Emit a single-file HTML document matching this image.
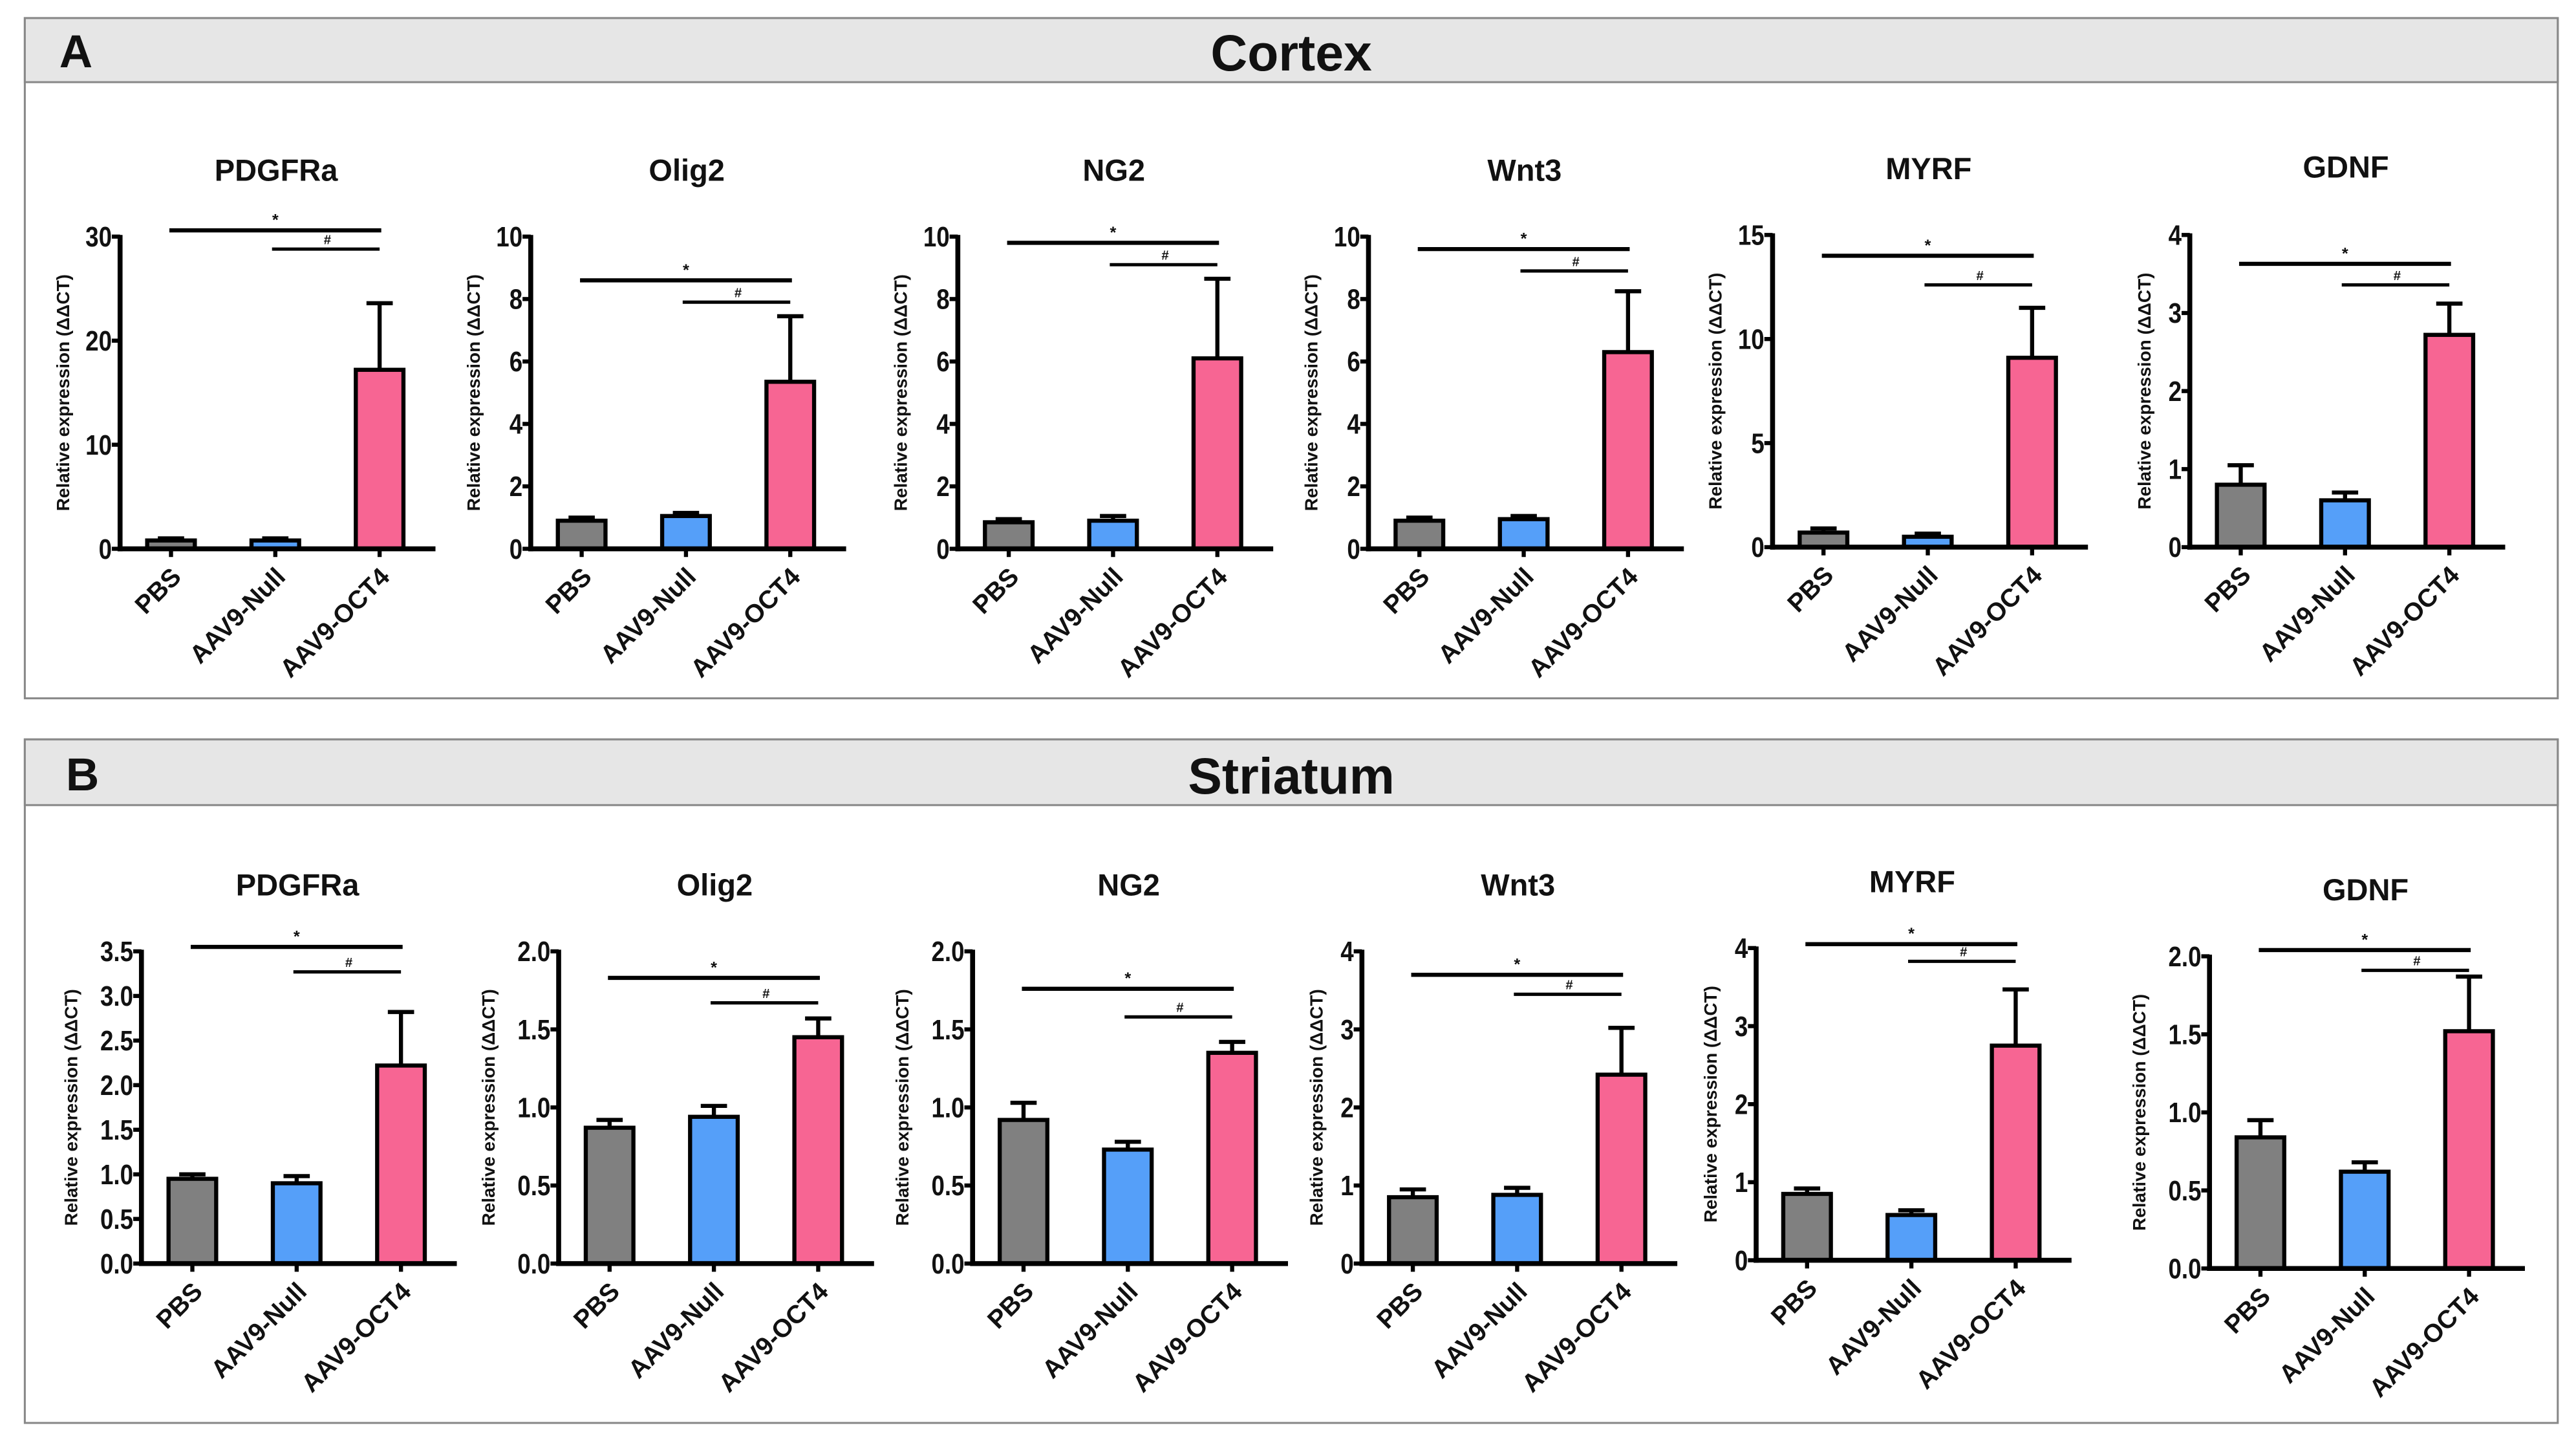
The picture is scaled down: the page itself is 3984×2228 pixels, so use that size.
<!DOCTYPE html>
<html><head><meta charset="utf-8"><style>
html,body{margin:0;padding:0;background:#fff}
svg{display:block}
text{font-family:"Liberation Sans",Arial,sans-serif;font-weight:bold;fill:#111}
</style></head><body>
<svg id="fig" width="3984" height="2228" viewBox="0 0 1568 877" xmlns="http://www.w3.org/2000/svg">
<g>
<rect x="15" y="11" width="1542" height="414" fill="#fff" stroke="#888" stroke-width="1.2"/>
<rect x="15" y="11" width="1542" height="39" fill="#e6e6e6" stroke="#888" stroke-width="1.2"/>
<text x="36" y="41" font-size="28">A</text>
<text x="786" y="43" font-size="31" text-anchor="middle">Cortex</text>
</g>
<g>
<rect x="15" y="450" width="1542" height="416" fill="#fff" stroke="#888" stroke-width="1.2"/>
<rect x="15" y="450" width="1542" height="40" fill="#e6e6e6" stroke="#888" stroke-width="1.2"/>
<text x="40" y="481" font-size="28">B</text>
<text x="786" y="483" font-size="31" text-anchor="middle">Striatum</text>
</g>
<g id="charts"></g>
</svg>
<script>
const categories = ["PBS","AAV9-Null","AAV9-OCT4"];
const geneNames = ["PDGFRa","Olig2","NG2","Wnt3","MYRF","GDNF"];
const cortexMeans = [[0.8,0.8,17.2],[0.9,1.05,5.35],[0.85,0.9,6.1],[0.9,0.95,6.3],[0.7,0.5,9.1],[0.8,0.6,2.72]];
const cortexErrTops = [[1.0,1.0,23.6],[1.0,1.15,7.45],[0.95,1.05,8.65],[1.0,1.05,8.25],[0.9,0.65,11.5],[1.05,0.7,3.12]];
const cortexMax = [30,10,10,10,15,4];
const cortexTicks = [["0","10","20","30"],["0","2","4","6","8","10"],["0","2","4","6","8","10"],["0","2","4","6","8","10"],["0","5","10","15"],["0","1","2","3","4"]];
const cortexStarLevels = [30.6,8.6,9.8,9.6,14.0,3.63];
const cortexHashLevels = [28.8,7.9,9.1,8.9,12.6,3.36];
const striatumMeans = [[0.95,0.9,2.22],[0.87,0.94,1.45],[0.92,0.73,1.35],[0.85,0.88,2.42],[0.85,0.58,2.75],[0.84,0.62,1.52]];
const striatumErrTops = [[1.0,0.98,2.82],[0.92,1.01,1.57],[1.03,0.78,1.42],[0.95,0.97,3.02],[0.92,0.64,3.47],[0.95,0.68,1.87]];
const striatumMax = [3.5,2.0,2.0,4,4,2.0];
const striatumTicks = [["0.0","0.5","1.0","1.5","2.0","2.5","3.0","3.5"],["0.0","0.5","1.0","1.5","2.0"],["0.0","0.5","1.0","1.5","2.0"],["0","1","2","3","4"],["0","1","2","3","4"],["0.0","0.5","1.0","1.5","2.0"]];
const striatumStarLevels = [3.55,1.83,1.76,3.7,4.05,2.04];
const striatumHashLevels = [3.27,1.67,1.58,3.45,3.83,1.91];
</script>
<script>
const NS="http://www.w3.org/2000/svg";
const root=document.getElementById('charts');
const colors=["#808080","#559ff9","#f76593"];
function mk(tag,attrs,parent){const e=document.createElementNS(NS,tag);for(const k in attrs)e.setAttribute(k,attrs[k]);parent.appendChild(e);return e;}
const layouts={
 cortex:{ax:[73,323,583,833,1079,1333],top:[144,144,144,144,143,143],bot:[334,334,334,334,333,333],titleY:[110,110,110,110,109,108]},
 striatum:{ax:[86,340,592,829,1069,1345],top:[579,579,579,579,577,582],bot:[769,769,769,769,767,772],titleY:[545,545,545,545,543,548]}
};
function drawChart(region,i,means,errs,max,ticks,star,hash){
 const L=layouts[region];const x0=L.ax[i],yT=L.top[i],yB=L.bot[i];
 const g=mk('g',{},root);
 
 
 const y=v=>yB-(v/max)*(yB-yT);
 const xc=j=>x0+31+j*63.5;
 const t=mk('text',{x:x0+95,y:L.titleY[i],'font-size':18.5,'text-anchor':'middle'},g);t.textContent=geneNames[i];
 
 
 const maxLen=Math.max(...ticks.map(s=>s.length));
 const off=maxLen>=3?39:(maxLen==2?31:24);
 const yl=mk('text',{x:0,y:0,'font-size':11,'text-anchor':'middle',transform:`translate(${x0-off},${(yT+yB)/2}) rotate(-90)`},g);yl.textContent='Relative expression (ΔΔCT)';
 
 
 for(let j=0;j<3;j++){
  const cx=xc(j),top=y(means[j]),et=y(errs[j]);
  mk('line',{x1:cx,y1:top,x2:cx,y2:et,stroke:'#000','stroke-width':2.5},g);
  mk('line',{x1:cx-8,y1:et,x2:cx+8,y2:et,stroke:'#000','stroke-width':2.5},g);
  const r=mk('rect',{x:cx-14.5,y:top,width:29,height:yB-top,fill:colors[j],stroke:'#000','stroke-width':2.5},g);
  
  
  mk('line',{x1:cx,y1:yB,x2:cx,y2:yB+5,stroke:'#000','stroke-width':2.5},g);
  const c=mk('text',{x:0,y:0,'font-size':15.5,'text-anchor':'end',transform:`translate(${cx+7},${yB+18}) rotate(-45)`},g);c.textContent=categories[j];
  
  
 }
 mk('line',{x1:x0,y1:yT-1,x2:x0,y2:yB+1.5,stroke:'#000','stroke-width':3},g);
 mk('line',{x1:x0-1.5,y1:yB,x2:x0+192,y2:yB,stroke:'#000','stroke-width':3},g);
 ticks.forEach((lab,k)=>{const v=parseFloat(lab);const ty=y(v);
  mk('line',{x1:x0-5,y1:ty,x2:x0,y2:ty,stroke:'#000','stroke-width':2.5},g);
  const tt=mk('text',{x:0,y:0,'font-size':17,'text-anchor':'end',transform:`translate(${x0-5},${ty+6}) scale(0.85,1)`},g);tt.textContent=lab;
  
  
 });
 const sy=y(star),hy=y(hash);
 const s1=mk('line',{x1:xc(0)-1,y1:sy,x2:xc(2)+1,y2:sy,stroke:'#000','stroke-width':2.5},g);
 
 
 const st=mk('text',{x:(xc(0)+xc(2))/2,y:sy-3,'font-size':10,'text-anchor':'middle'},g);st.textContent='*';
 const h1=mk('line',{x1:xc(1)-2,y1:hy,x2:xc(2),y2:hy,stroke:'#000','stroke-width':2},g);
 
 
 const ht=mk('text',{x:(xc(1)+xc(2))/2,y:hy-3,'font-size':8,'text-anchor':'middle'},g);ht.textContent='#';
}
for(let i=0;i<6;i++){
 drawChart('cortex',i,cortexMeans[i],cortexErrTops[i],cortexMax[i],cortexTicks[i],cortexStarLevels[i],cortexHashLevels[i]);
 drawChart('striatum',i,striatumMeans[i],striatumErrTops[i],striatumMax[i],striatumTicks[i],striatumStarLevels[i],striatumHashLevels[i]);
}
</script>
</body></html>
